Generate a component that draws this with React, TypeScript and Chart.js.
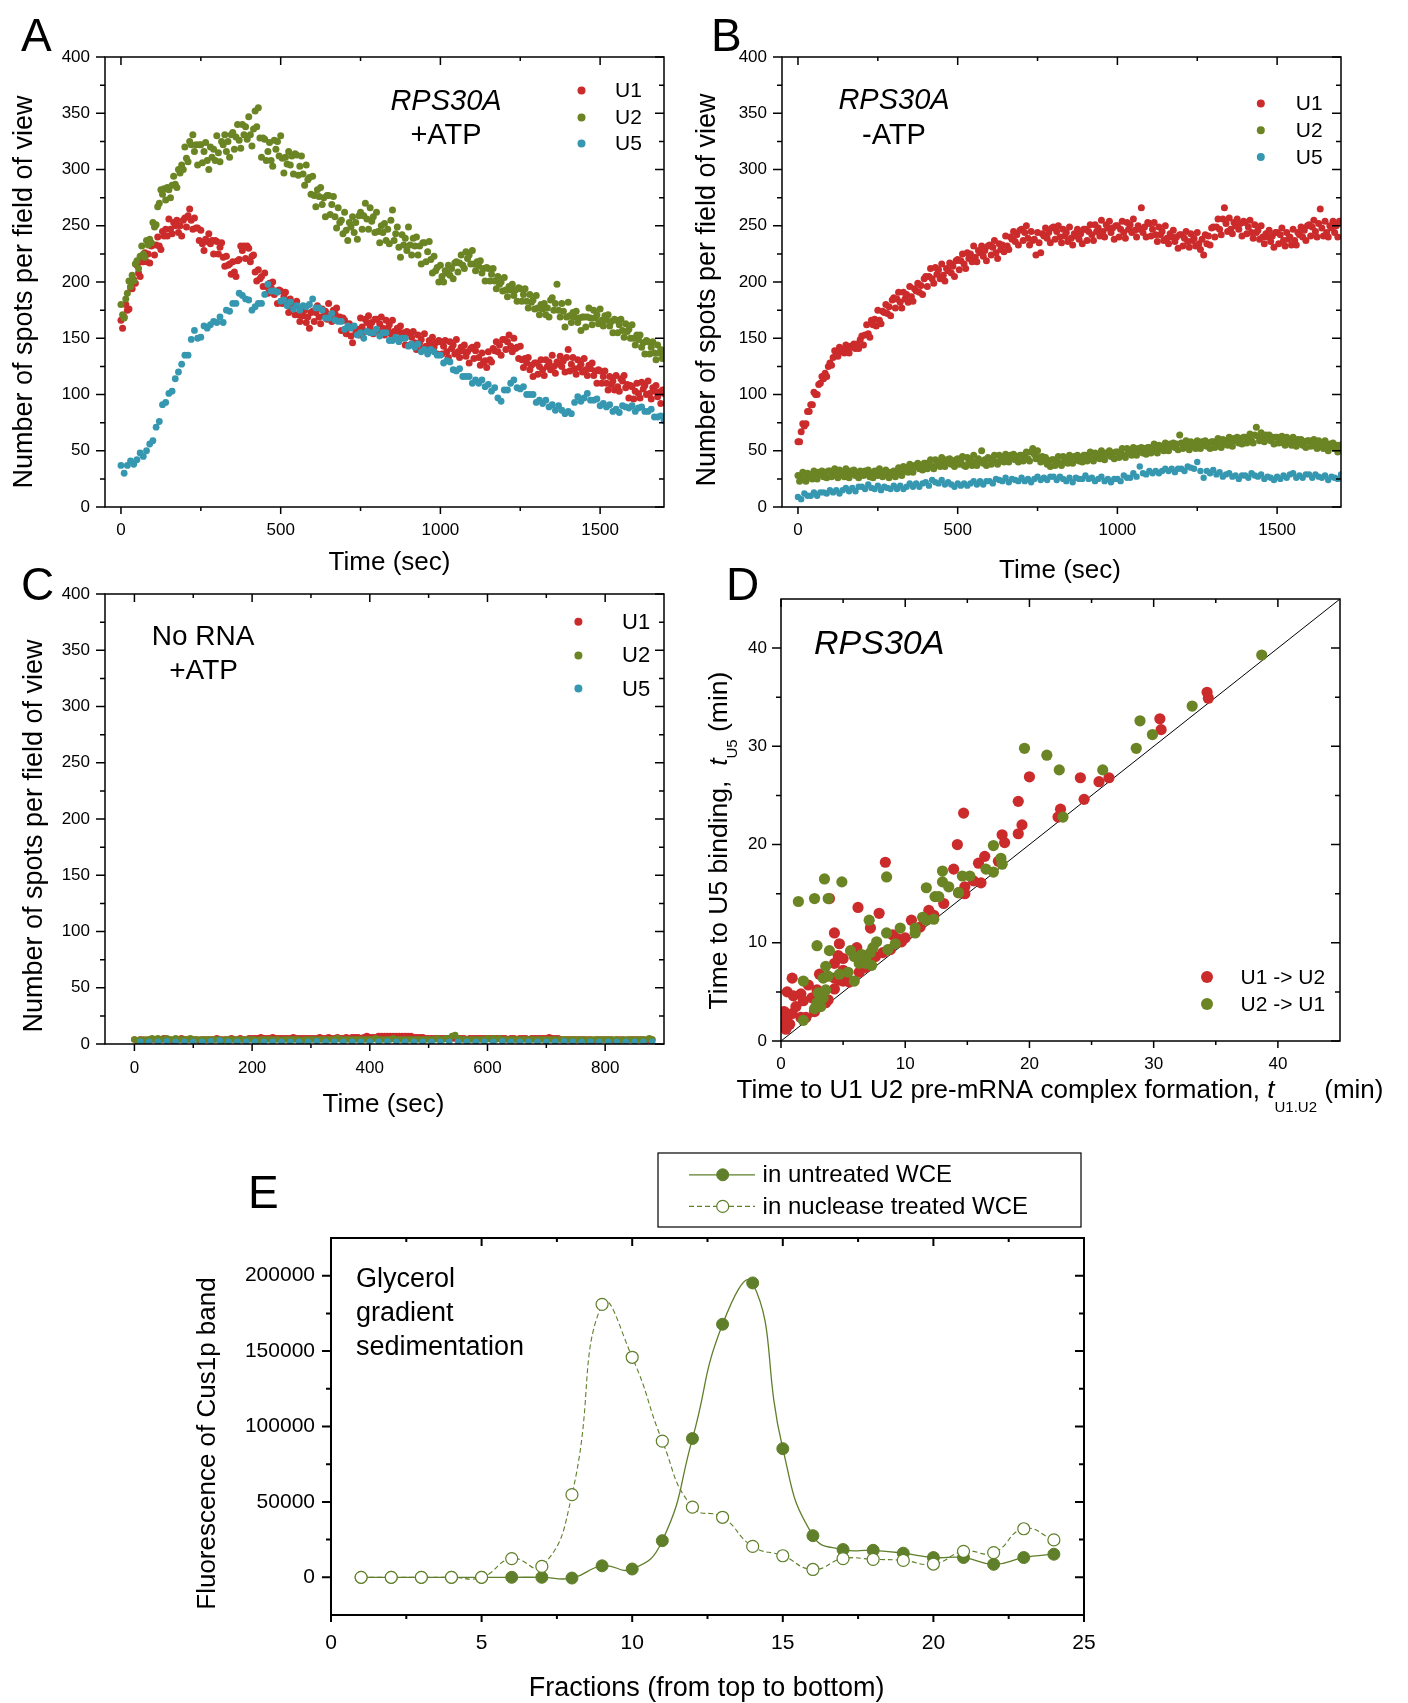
import React, { useEffect, useRef } from "react";
import { Chart, registerables } from "chart.js";
Chart.register(...registerables);

// ---------------- DATA ----------------
// Panel A / B / C: sampling of time traces (sec)
const DENSE_STEP = 5; // U1, U2 sampled every 5 s
const SPARSE_STEP = 10; // U5 sampled every 10 s
const C_U5_START = 10;
const C_U5_STEP = 15;

const A_U1 = [
166,159,169,180,175,176,195,194,202,199,215,208,205,218,218,226,218,225,217,232,
233,224,233,240,232,229,245,241,247,241,256,247,243,253,250,255,244,250,241,255,
257,249,259,265,255,247,257,248,248,237,246,234,228,238,236,243,234,237,225,237,
236,225,231,235,222,214,223,215,216,207,218,209,205,219,220,232,228,232,221,232,
230,218,223,224,209,201,211,203,205,196,208,196,190,199,195,200,189,192,181,193,
192,181,187,191,180,173,185,177,179,171,183,171,165,174,170,175,164,169,159,173,
174,165,173,179,169,163,176,170,174,167,181,170,165,175,172,177,166,169,157,168,
166,154,159,163,152,146,159,154,158,153,168,160,156,167,164,170,160,164,154,167,
167,156,163,169,159,153,166,159,162,154,166,156,150,159,156,161,151,155,144,156,
155,144,151,156,146,140,153,146,149,141,154,143,138,148,145,151,142,146,136,148,
147,136,143,148,138,133,147,141,144,136,149,138,133,142,139,144,134,138,128,141,
142,132,139,144,133,126,137,129,130,124,138,131,129,141,139,147,138,144,135,149,
149,140,147,153,143,138,150,141,142,132,143,131,124,132,128,133,122,126,116,128,
128,118,125,131,122,117,131,125,129,122,135,125,119,129,127,134,125,130,120,133,
140,121,127,133,123,118,131,124,127,120,132,122,117,126,123,128,117,121,110,122,
121,110,116,121,110,104,116,109,112,104,117,107,103,114,112,117,106,109,97,108,
107,96,103,110,101,97,111,105,108,100,112,101,96,106,103,108,98,102,92,104,
101];

const A_U2 = [
180,171,168,185,190,201,196,206,201,216,219,212,223,232,225,222,237,233,238,235,
253,249,251,267,270,282,278,283,273,284,282,275,286,294,287,284,300,297,304,300,
320,310,307,325,322,331,316,322,304,322,322,306,316,324,308,300,320,311,318,308,
330,315,307,325,322,331,316,325,311,331,333,318,329,340,326,319,340,331,338,327,
347,331,321,336,352,338,355,328,311,328,327,308,316,324,308,303,326,318,325,312,
330,310,297,311,305,316,304,312,296,314,313,295,303,312,296,286,304,291,293,278,
294,277,267,282,276,284,269,275,258,277,277,260,269,276,258,248,266,253,255,243,
262,246,237,253,249,258,244,253,238,259,262,247,259,270,256,247,266,254,258,244,
262,245,235,250,244,252,237,247,234,255,264,237,243,249,231,222,242,233,239,228,
249,233,224,239,232,240,224,232,216,235,235,218,227,236,220,208,223,210,213,200,
215,205,200,210,208,215,206,212,203,217,218,209,217,224,215,212,227,221,224,216,
228,216,210,218,214,219,208,212,201,213,212,201,207,212,201,194,205,198,200,192,
204,193,187,196,193,198,188,193,183,195,194,183,189,194,183,177,189,182,184,176,
188,177,171,180,176,181,171,177,169,184,186,175,181,198,175,169,181,174,160,169,
182,170,164,173,169,174,164,168,157,169,169,160,169,177,168,162,175,168,171,163,
176,166,161,170,166,171,161,165,155,167,166,155,162,167,157,151,163,156,158,150,
162,150,144,153,149,153,142,146,136,148,147,136,142,147,137,131,144,137,140,132,
138];

const A_U5 = [
37,30,37,41,38,42,48,45,50,56,59,71,76,91,93,101,103,114,120,127,
135,135,149,157,150,151,161,159,162,165,164,169,164,175,174,181,181,190,188,185,
184,175,178,181,181,189,198,192,192,191,183,184,179,182,176,179,175,179,178,180,
185,177,177,175,168,168,172,166,165,165,158,161,159,161,153,155,150,156,155,155,
158,152,155,155,148,148,151,147,150,150,143,145,142,145,138,140,136,140,138,135,
135,128,130,129,122,121,123,116,116,116,110,113,110,113,107,109,103,106,97,94,
104,104,110,113,106,105,107,100,100,100,93,95,92,95,89,91,86,90,86,83,
85,83,93,98,94,97,101,95,95,96,90,92,89,91,85,87,84,90,89,88,
90,85,88,89,85,85,87,80,80,81,77];

const B_U1 = [
58,58,67,74,72,74,85,85,91,91,102,100,100,109,110,116,114,119,116,125,
128,126,133,139,135,134,142,138,140,137,144,139,137,143,142,145,141,145,141,149,
152,144,153,162,154,151,166,162,167,161,175,166,163,174,173,180,172,178,170,184,
186,177,185,191,182,177,191,185,189,182,196,187,183,194,192,199,191,197,189,203,
205,196,205,212,203,199,213,207,211,203,216,206,201,212,210,217,208,214,205,219,
220,211,219,225,216,212,226,221,225,218,232,222,218,228,226,232,223,228,219,232,
233,224,231,237,226,221,234,229,233,227,241,232,229,240,238,245,236,242,233,246,
247,237,244,250,239,233,245,237,238,224,244,235,226,243,241,248,239,244,235,248,
249,238,245,250,240,235,247,241,244,236,249,239,233,243,241,247,238,243,234,247,
247,237,245,251,242,237,251,245,248,241,255,245,240,251,248,254,244,248,238,250,
250,240,247,254,244,239,253,247,251,244,256,246,240,250,247,266,244,249,240,253,
252,241,247,253,242,236,249,242,245,237,250,239,234,243,240,246,236,240,230,242,
242,232,239,245,236,231,243,237,239,232,244,234,229,238,224,242,234,241,233,248,
249,240,249,256,247,242,256,266,252,245,257,247,243,253,250,256,247,252,241,254,
253,243,249,255,244,239,251,244,246,238,250,240,234,243,240,246,236,241,231,244,
244,234,242,248,237,232,244,238,240,233,247,237,233,244,242,249,240,246,237,250,
251,241,249,255,245,240,252,265,248,241,254,244,240,250,248,254,244,250,240,254,
254];

const B_U2 = [
28,23,27,31,25,23,30,27,29,25,32,27,25,31,29,32,27,31,26,32,
32,27,31,34,28,26,33,29,31,27,34,29,26,32,30,33,28,31,26,32,
31,28,32,29,33,27,30,26,32,30,28,34,29,27,31,33,30,26,31,29,
32,27,32,35,30,28,36,32,35,31,38,34,31,37,36,39,34,37,33,39,
39,34,39,42,36,34,42,38,40,36,44,39,36,42,40,43,38,41,36,42,
43,38,41,45,37,36,44,40,42,37,46,40,37,43,41,50,39,42,37,44,
43,38,43,46,40,38,46,42,44,40,47,42,40,46,44,47,42,45,40,46,
46,41,46,49,43,41,49,52,47,43,50,44,40,45,42,44,38,41,36,42,
42,37,42,45,39,37,45,41,43,39,46,41,39,45,43,46,41,44,40,46,
46,41,45,49,43,41,48,44,47,43,50,45,42,48,47,50,45,48,43,49,
49,44,49,52,46,44,52,48,50,46,53,48,46,52,50,53,48,52,47,53,
53,48,52,56,50,48,55,52,54,50,57,52,50,56,54,57,53,56,51,64,
57,52,56,59,53,51,58,54,56,52,59,54,52,58,56,59,54,57,52,58,
58,53,57,61,55,53,60,56,59,55,62,57,54,61,59,62,57,61,56,62,
62,57,61,65,59,57,64,71,63,59,66,61,58,64,61,64,59,62,56,62,
62,57,61,63,57,55,62,58,59,55,62,57,54,60,57,60,55,58,53,59,
59,54,58,60,54,52,59,54,56,52,59,54,50,56,54,57,52,55,49,55,
52];

const B_U5 = [
9,7,12,10,10,13,10,13,13,12,15,13,15,12,15,17,14,17,14,18,
18,16,20,17,16,19,15,18,17,16,19,16,19,16,18,21,18,21,18,21,
22,19,24,22,21,24,20,22,20,18,21,19,21,19,21,23,20,23,20,23,
23,21,25,24,23,26,22,25,24,23,26,23,25,22,25,27,24,26,24,27,
27,24,27,25,23,26,22,26,25,25,28,25,26,23,25,27,23,25,22,25,
25,23,28,26,26,30,27,36,30,29,32,30,32,30,32,34,32,34,31,34,
34,32,36,35,34,40,32,26,32,30,33,29,31,27,29,30,27,28,25,28,
28,26,30,28,27,29,25,27,26,24,27,25,28,26,29,30,26,28,26,29,
29,26,29,27,26,28,24,27,26,25,29];

const C_U1 = [
4,3,4,4,3,4,4,4,3,4,5,4,4,3,4,4,5,4,4,4,
4,4,3,4,4,4,4,4,5,4,4,4,4,5,4,4,5,4,4,5,
5,5,5,6,5,5,5,6,5,5,5,5,5,5,6,5,5,5,5,5,
5,5,5,6,5,5,6,5,5,6,5,5,6,5,6,6,6,5,6,7,
6,6,6,7,7,7,7,7,7,7,7,7,7,7,7,6,6,6,6,5,
5,5,5,5,5,5,5,5,5,5,5,5,5,4,5,5,5,5,5,5,
5,5,5,5,5,5,5,4,5,5,4,5,5,5,4,5,5,5,5,5,
5,6,5,5,5,4,4,4,4,4,4,4,4,4,4,4,3,4,4,4,
4,4,4,3,4,4,4,3,4,4,4,4,4,4,3,4,4];

const C_U2 = [
4,3,4,3,4,4,5,4,5,4,4,5,4,4,5,4,4,4,4,5,
4,4,4,4,4,4,4,4,4,4,3,4,4,4,4,4,4,4,4,4,
4,4,3,4,4,4,4,4,4,4,3,4,4,4,4,4,4,3,4,4,
4,4,4,4,4,4,4,4,4,5,4,4,4,4,4,4,4,4,4,4,
4,4,5,4,4,4,4,4,5,4,4,4,4,4,4,4,4,4,4,4,
4,4,4,5,4,4,5,5,7,8,5,4,4,4,4,4,4,4,4,4,
5,4,5,4,5,4,4,4,4,4,4,4,4,4,4,4,4,4,4,4,
4,4,4,4,4,4,4,4,4,4,4,4,4,4,3,4,4,4,4,4,
4,4,4,4,4,3,4,4,4,4,4,4,4,4,4,5,4];

const C_U5 = [
2,2,2,2.5,2,2,2,2,2.5,3, 2,2,2,2,2,2,2,2,2,2,
2.5,2,2,2,2,2,2,2,2.5,2, 2,2,2,2,2,2,2,2,2,2,
2,2.5,2,2,2,2,2,2,2.5,2, 2,2,2,2,2,2,2,2,2];

// Panel D: [t_U1.U2, t_U5] (min)
const D_U1_U2 = [
[34.3,35.5],[34.4,34.9],[30.5,32.8],[30.6,31.7],[24.1,26.8],[24.4,24.6],[25.6,26.4],[26.4,26.8],
[20.0,26.9],[19.1,24.4],[19.4,22.0],[19.1,21.1],[17.8,21.0],[18.0,20.2],[14.7,23.2],[14.2,20.0],
[13.9,17.5],[15.9,18.1],[16.4,18.8],[16.1,16.1],[14.8,15.7],[14.8,15.0],[15.5,16.3],[14.3,15.1],
[13.1,14.0],[11.9,13.3],[10.5,12.3],[11.2,11.6],[8.4,18.2],[7.9,13.0],[6.2,13.6],[7.2,11.5],
[4.3,11.0],[3.9,14.5],[4.7,9.9],[4.6,8.7],[4.3,7.9],[5.0,8.4],[6.1,9.5],[6.3,7.0],[8.8,9.3],
[9.0,10.8],[9.4,10.4],[9.7,10.1],[3.1,6.8],[2.2,5.7],[0.9,6.4],[0.5,5.0],[1.0,4.6],[1.6,4.8],
[1.8,4.1],[2.5,4.4],[2.9,3.9],[3.3,4.6],[0.25,3.0],[0.5,2.4],[0.7,1.7],[0.4,1.2],[0.9,2.8],
[1.6,2.4],[2.0,2.4],[2.7,3.0],[3.6,3.9],[4.3,5.3],[4.7,6.2],[5.0,6.1],[4.3,6.4],[5.0,7.2],
[6.5,7.9],[7.6,8.6],[2.9,5.2],[22.5,23.6],[22.3,22.8],[17.5,18.3],[12.3,12.8],[10.0,10.5],
[5.5,6.0],[6.8,7.5],[8.2,9.0],[3.8,4.2],[1.2,3.5],[0.3,2.0]];
const D_U2_U1 = [
[38.7,39.3],[33.1,34.1],[28.9,32.6],[29.9,31.2],[28.6,29.8],[25.9,27.6],[19.6,29.8],[21.4,29.1],
[22.4,27.6],[22.7,22.8],[17.1,19.9],[17.7,18.6],[17.8,18.0],[17.1,17.2],[16.5,17.5],[14.6,16.8],
[15.2,16.8],[14.3,15.1],[13.0,17.3],[13.0,16.2],[13.5,15.7],[11.7,15.6],[12.4,14.7],[12.7,14.7],
[12.3,12.4],[11.7,12.3],[11.4,12.6],[10.8,11.5],[10.8,11.0],[9.6,11.5],[8.5,16.7],[4.9,16.2],
[3.5,16.5],[3.8,14.5],[2.7,14.5],[1.4,14.2],[7.1,12.3],[2.9,9.7],[3.9,9.2],[3.6,7.6],[8.5,11.0],
[7.7,10.1],[9.2,9.9],[8.6,9.3],[5.6,9.2],[5.9,8.6],[6.5,8.8],[6.8,8.4],[7.2,9.0],[7.4,9.5],
[6.3,7.9],[6.8,7.9],[7.3,7.7],[5.4,7.0],[4.7,6.8],[5.9,6.1],[1.8,6.1],[3.4,6.4],[3.8,6.6],
[3.0,4.9],[3.6,5.2],[3.4,4.4],[2.9,3.9],[3.2,3.5],[2.7,3.3],[1.8,2.1]];
const D_DIAGONAL = [[0,0],[45,45]];

// Panel E
const E_FRACTIONS = [1,2,3,4,5,6,7,8,9,10,11,12,13,14,15,16,17,18,19,20,21,22,23,24];
const E_UNTREATED = [0,0,0,0,0,0,0,-500,7600,5500,24300,92000,167800,195200,85300,27600,18400,17900,16000,13100,13100,8600,13100,15300];
const E_NUCLEASE = [0,0,0,0,0,12400,7200,54800,181000,145900,90300,46500,39800,20500,14300,5200,12400,11900,11200,8800,17200,16400,32200,24800];

// Tick values
const TIME_TICKS_AB = [0,500,1000,1500];
const TIME_MINOR_AB = [250,750,1250];
const TIME_TICKS_C = [0,200,400,600,800];
const TIME_MINOR_C = [100,300,500,700];
const SPOT_TICKS = [0,50,100,150,200,250,300,350,400];
const SPOT_MINOR = [25,75,125,175,225,275,325,375];
const MIN_TICKS_D = [0,10,20,30,40];
const MIN_MINOR_D = [5,15,25,35];
const FRAC_TICKS_E = [0,5,10,15,20,25];
const FRAC_MINOR_E = [2.5,7.5,12.5,17.5,22.5];
const FLUO_TICKS_E = [0,50000,100000,150000,200000];
const FLUO_MINOR_E = [25000,75000,125000,175000];

// ---------------- STYLE ----------------
const FONT = "'Liberation Sans', Arial, Helvetica, sans-serif";
const f = (size: number, style = "") => `${style} ${size}px ${FONT}`.trim();
const RED = "#cc2b2b";
const GREEN = "#6b8424";
const BLUE = "#3597b0";
const OLIVE = "#5f7f2a";
const DENSE_R = 3.5;

const series = (vals: number[], t0: number, step: number) => vals.map((y, i) => ({ x: t0 + i * step, y }));
const pairs = (arr: number[][]) => arr.map(([x, y]) => ({ x, y }));

function dots(label: string, data: any[], color: string, order: number, r = 3.3) {
  return {
    label, data, order, clip: 0,
    backgroundColor: color, borderColor: color,
    pointBackgroundColor: color, pointBorderColor: color,
    pointRadius: r, pointHoverRadius: r, pointBorderWidth: 0,
  };
}

function axis(kind: "x" | "y", min: number, max: number, ticks: number[], fontSize: number, pad: number, size: number) {
  return {
    type: "linear",
    position: kind === "x" ? "bottom" : "left",
    min, max,
    afterBuildTicks: (sc: any) => { sc.ticks = ticks.map((v) => ({ value: v })); },
    afterFit: (sc: any) => { if (kind === "x") sc.height = size; else sc.width = size; },
    ticks: { font: { family: FONT, size: fontSize }, color: "#000", padding: pad, maxRotation: 0, autoSkip: false, callback: (v: any) => String(v) },
    grid: { display: false, drawTicks: false },
    border: { display: false },
    title: { display: false },
  };
}

function baseOptions(padding: any, x: any, y: any) {
  return {
    responsive: false, animation: false, events: [],
    layout: { padding, autoPadding: false },
    plugins: { legend: { display: false }, tooltip: { enabled: false }, title: { display: false } },
    scales: { x, y },
  };
}

type Run = { t: string; f: string; dy?: number };
type TextItem = { runs: Run[]; x: number; y: number; align?: "left" | "center"; rot?: boolean };

function drawText(ctx: CanvasRenderingContext2D, it: TextItem) {
  ctx.save();
  ctx.translate(it.x, it.y);
  if (it.rot) ctx.rotate(-Math.PI / 2);
  ctx.fillStyle = "#000";
  ctx.textBaseline = "alphabetic";
  ctx.textAlign = "left";
  let total = 0;
  for (const r of it.runs) { ctx.font = r.f; total += ctx.measureText(r.t).width; }
  let cx = it.align === "center" ? -total / 2 : 0;
  for (const r of it.runs) { ctx.font = r.f; ctx.fillText(r.t, cx, r.dy || 0); cx += ctx.measureText(r.t).width; }
  ctx.restore();
}
const T = (t: string, font: string, x: number, y: number, align: "left" | "center" = "left", rot = false): TextItem => ({ runs: [{ t, f: font }], x, y, align, rot });

type DotLegend = { ds: number[]; x: number; ys: number[]; textX: number; font: string; r: number };
type LineLegend = { ds: number[]; box: number[]; ys: number[]; lineX: number[]; markX: number; textX: number; font: string };

function makeDecor(cfg: { minorX: number[]; minorY: number[]; lw: number; texts: TextItem[]; dotLegend?: DotLegend; lineLegend?: LineLegend }) {
  return {
    id: "decor",
    afterDatasetsDraw(chart: any) {
      const { ctx, chartArea: a, scales } = chart;
      const xs = scales.x, ys = scales.y;
      ctx.save();
      ctx.strokeStyle = "#000";
      ctx.lineWidth = cfg.lw;
      ctx.strokeRect(a.left, a.top, a.right - a.left, a.bottom - a.top);
      ctx.beginPath();
      const xt = (v: number, bot: number, top: number) => {
        const p = xs.getPixelForValue(v);
        ctx.moveTo(p, a.bottom); ctx.lineTo(p, a.bottom + bot);
        ctx.moveTo(p, a.top); ctx.lineTo(p, a.top + top);
      };
      const yt = (v: number, left: number, right: number) => {
        const p = ys.getPixelForValue(v);
        ctx.moveTo(a.left, p); ctx.lineTo(a.left - left, p);
        ctx.moveTo(a.right, p); ctx.lineTo(a.right - right, p);
      };
      xs.ticks.forEach((t: any) => xt(t.value, 7, 8));
      cfg.minorX.forEach((v) => xt(v, 4, 4));
      ys.ticks.forEach((t: any) => yt(t.value, 9, 9));
      cfg.minorY.forEach((v) => yt(v, 5, 5));
      ctx.stroke();
      ctx.restore();
    },
    afterDraw(chart: any) {
      const ctx = chart.ctx as CanvasRenderingContext2D;
      cfg.texts.forEach((it) => drawText(ctx, it));
      const dl = cfg.dotLegend;
      if (dl) {
        dl.ds.forEach((di, k) => {
          const ds = chart.data.datasets[di];
          ctx.save();
          ctx.fillStyle = ds.pointBackgroundColor;
          ctx.beginPath();
          ctx.arc(dl.x, dl.ys[k], dl.r, 0, Math.PI * 2);
          ctx.fill();
          ctx.fillStyle = "#000";
          ctx.font = dl.font;
          ctx.textBaseline = "middle";
          ctx.textAlign = "left";
          ctx.fillText(ds.label, dl.textX, dl.ys[k] + 1);
          ctx.restore();
        });
      }
      const ll = cfg.lineLegend;
      if (ll) {
        ctx.save();
        ctx.strokeStyle = "#000";
        ctx.lineWidth = 1.2;
        ctx.strokeRect(ll.box[0], ll.box[1], ll.box[2] - ll.box[0], ll.box[3] - ll.box[1]);
        ll.ds.forEach((di, k) => {
          const ds = chart.data.datasets[di];
          const y = ll.ys[k];
          ctx.strokeStyle = ds.borderColor;
          ctx.lineWidth = ds.borderWidth;
          ctx.setLineDash(ds.borderDash || []);
          ctx.beginPath();
          ctx.moveTo(ll.lineX[0], y); ctx.lineTo(ll.lineX[1], y);
          ctx.stroke();
          ctx.setLineDash([]);
          ctx.beginPath();
          ctx.arc(ll.markX, y, ds.pointRadius, 0, Math.PI * 2);
          ctx.fillStyle = ds.pointBackgroundColor;
          ctx.fill();
          ctx.lineWidth = ds.pointBorderWidth;
          ctx.strokeStyle = ds.pointBorderColor;
          ctx.stroke();
          ctx.fillStyle = "#000";
          ctx.font = ll.font;
          ctx.textBaseline = "middle";
          ctx.textAlign = "left";
          ctx.fillText(ds.label, ll.textX, y + 1);
        });
        ctx.restore();
      }
    },
  };
}

// ---------------- CHART CONFIGS ----------------
const Y_TITLE = "Number of spots per field of view";

function configA() {
  return {
    type: "scatter",
    data: { datasets: [
      dots("U1", series(A_U1, 0, DENSE_STEP), RED, 3, DENSE_R),
      dots("U2", series(A_U2, 0, DENSE_STEP), GREEN, 2, DENSE_R),
      dots("U5", series(A_U5, 0, SPARSE_STEP), BLUE, 1, 3.4),
    ] },
    options: baseOptions({ top: 57, right: 40, left: 0, bottom: 0 },
      axis("x", -50, 1700, TIME_TICKS_AB, 17, 13, 93),
      axis("y", 0, 400, SPOT_TICKS, 17, 15, 105)),
    plugins: [makeDecor({
      minorX: TIME_MINOR_AB, minorY: SPOT_MINOR, lw: 1.5,
      texts: [
        T("A", f(46), 21, 51),
        T("RPS30A", f(29, "italic"), 446, 110, "center"),
        T("+ATP", f(29), 446, 143.5, "center"),
        T(Y_TITLE, f(27), 32, 292, "center", true),
        T("Time (sec)", f(26), 389.5, 570, "center"),
      ],
      dotLegend: { ds: [0, 1, 2], x: 581.5, ys: [90.6, 117.6, 143.5], textX: 615, font: f(21), r: 4 },
    })],
  };
}

function configB() {
  return {
    type: "scatter",
    data: { datasets: [
      dots("U1", series(B_U1, 0, DENSE_STEP), RED, 3, DENSE_R),
      dots("U2", series(B_U2, 0, DENSE_STEP), GREEN, 2, DENSE_R),
      dots("U5", series(B_U5, 0, SPARSE_STEP), BLUE, 1, 3.2),
    ] },
    options: baseOptions({ top: 57, right: 67, left: 0, bottom: 0 },
      axis("x", -50, 1700, TIME_TICKS_AB, 17, 13, 93),
      axis("y", 0, 400, SPOT_TICKS, 17, 15, 102)),
    plugins: [makeDecor({
      minorX: TIME_MINOR_AB, minorY: SPOT_MINOR, lw: 1.5,
      texts: [
        T("B", f(46), 31, 51),
        T("RPS30A", f(29, "italic"), 214, 109, "center"),
        T("-ATP", f(29), 214, 143.5, "center"),
        T(Y_TITLE, f(27), 35, 290, "center", true),
        T("Time (sec)", f(26), 380, 578, "center"),
      ],
      dotLegend: { ds: [0, 1, 2], x: 580.8, ys: [103.6, 130.2, 156.9], textX: 615.8, font: f(21), r: 4 },
    })],
  };
}

function configC() {
  return {
    type: "scatter",
    data: { datasets: [
      dots("U1", series(C_U1, 0, DENSE_STEP), RED, 3),
      dots("U2", series(C_U2, 0, DENSE_STEP), GREEN, 2),
      dots("U5", series(C_U5, C_U5_START, C_U5_STEP), BLUE, 1),
    ] },
    options: baseOptions({ top: 34, right: 40, left: 0, bottom: 0 },
      axis("x", -50, 900, TIME_TICKS_C, 17, 14, 86),
      axis("y", 0, 400, SPOT_TICKS, 17, 15, 105)),
    plugins: [makeDecor({
      minorX: TIME_MINOR_C, minorY: SPOT_MINOR, lw: 1.5,
      texts: [
        T("C", f(46), 21, 40),
        T("No RNA", f(28), 203, 85, "center"),
        T("+ATP", f(28), 203.6, 119, "center"),
        T(Y_TITLE, f(27), 41.5, 276, "center", true),
        T("Time (sec)", f(26), 383.5, 552, "center"),
      ],
      dotLegend: { ds: [0, 1, 2], x: 578.4, ys: [61.8, 95.4, 128.6], textX: 622, font: f(22), r: 4 },
    })],
  };
}

function configD() {
  return {
    type: "scatter",
    data: { datasets: [
      dots("U1 -> U2", pairs(D_U1_U2), RED, 3, 5.6),
      dots("U2 -> U1", pairs(D_U2_U1), GREEN, 2, 5.6),
      { label: "diag", data: pairs(D_DIAGONAL), showLine: true, pointRadius: 0, borderColor: "#000", borderWidth: 1, order: 5 },
    ] },
    options: baseOptions({ top: 39, right: 68, left: 0, bottom: 0 },
      axis("x", 0, 45, MIN_TICKS_D, 17, 13.5, 79),
      axis("y", 0, 45, MIN_TICKS_D, 17, 14, 101)),
    plugins: [makeDecor({
      minorX: MIN_MINOR_D, minorY: MIN_MINOR_D, lw: 1.5,
      texts: [
        T("D", f(46), 46, 40),
        T("RPS30A", f(34, "italic"), 134, 93.6),
        { runs: [
          { t: "Time to U5 binding,  ", f: f(26.5) },
          { t: "t", f: f(26.5, "italic") },
          { t: "U5", f: f(15), dy: 10 },
          { t: " (min)", f: f(26.5) },
        ], x: 46.5, y: 280.5, align: "center", rot: true },
        { runs: [
          { t: "Time to U1 U2 pre-mRNA complex formation, ", f: f(26) },
          { t: "t", f: f(26, "italic") },
          { t: "U1.U2", f: f(15), dy: 14 },
          { t: " (min)", f: f(26) },
        ], x: 380, y: 538, align: "center" },
      ],
      dotLegend: { ds: [0, 1], x: 527, ys: [417, 444], textX: 560.6, font: f(21), r: 6 },
    })],
  };
}

function configE() {
  return {
    type: "line",
    data: { datasets: [
      { label: "in untreated WCE", data: E_FRACTIONS.map((x, i) => ({ x, y: E_UNTREATED[i] })),
        borderColor: OLIVE, borderWidth: 1.3, pointRadius: 6, pointHoverRadius: 6,
        pointBackgroundColor: OLIVE, pointBorderColor: OLIVE, pointBorderWidth: 1,
        tension: 0.5, fill: false, order: 2 },
      { label: "in nuclease treated WCE", data: E_FRACTIONS.map((x, i) => ({ x, y: E_NUCLEASE[i] })),
        borderColor: OLIVE, borderWidth: 1.1, borderDash: [5, 3], pointRadius: 6, pointHoverRadius: 6,
        pointBackgroundColor: "#ffffff", pointBorderColor: OLIVE, pointBorderWidth: 1.2,
        tension: 0.5, fill: false, order: 1 },
    ] },
    options: baseOptions({ top: 98, right: 96, left: 0, bottom: 0 },
      axis("x", 0, 25, FRAC_TICKS_E, 21, 16, 88),
      axis("y", -25000, 225000, FLUO_TICKS_E, 21, 16, 151)),
    plugins: [makeDecor({
      minorX: FRAC_MINOR_E, minorY: FLUO_MINOR_E, lw: 2,
      texts: [
        T("E", f(46), 68, 68),
        T("Glycerol", f(27), 176, 147),
        T("gradient", f(27), 176, 181),
        T("sedimentation", f(27), 176, 215),
        T("Fluorescence of Cus1p band", f(26), 34.7, 303.5, "center", true),
        T("Fractions (from top to bottom)", f(27), 526.6, 556, "center"),
      ],
      lineLegend: { ds: [0, 1], box: [478, 13, 901, 87], ys: [34.8, 66.4], lineX: [509, 575], markX: 542.7, textX: 582.6, font: f(24) },
    })],
  };
}

// ---------------- COMPONENTS ----------------
function ChartCanvas({ left, top, width, height, make }: { left: number; top: number; width: number; height: number; make: () => any }) {
  const ref = useRef<HTMLCanvasElement | null>(null);
  useEffect(() => {
    const chart = new Chart(ref.current as HTMLCanvasElement, make());
    return () => chart.destroy();
  }, []);
  return <canvas ref={ref} width={width} height={height} style={{ position: "absolute", left, top, width, height }} />;
}

export default function App() {
  useEffect(() => {
    document.body.style.margin = "0";
    document.body.style.background = "#ffffff";
  }, []);
  return (
    <div style={{ position: "relative", width: 1408, height: 1703, background: "#ffffff", overflow: "hidden" }}>
      <ChartCanvas left={0} top={0} width={704} height={600} make={configA} />
      <ChartCanvas left={680} top={0} width={728} height={600} make={configB} />
      <ChartCanvas left={0} top={560} width={704} height={570} make={configC} />
      <ChartCanvas left={680} top={560} width={728} height={560} make={configD} />
      <ChartCanvas left={180} top={1140} width={1000} height={563} make={configE} />
    </div>
  );
}
